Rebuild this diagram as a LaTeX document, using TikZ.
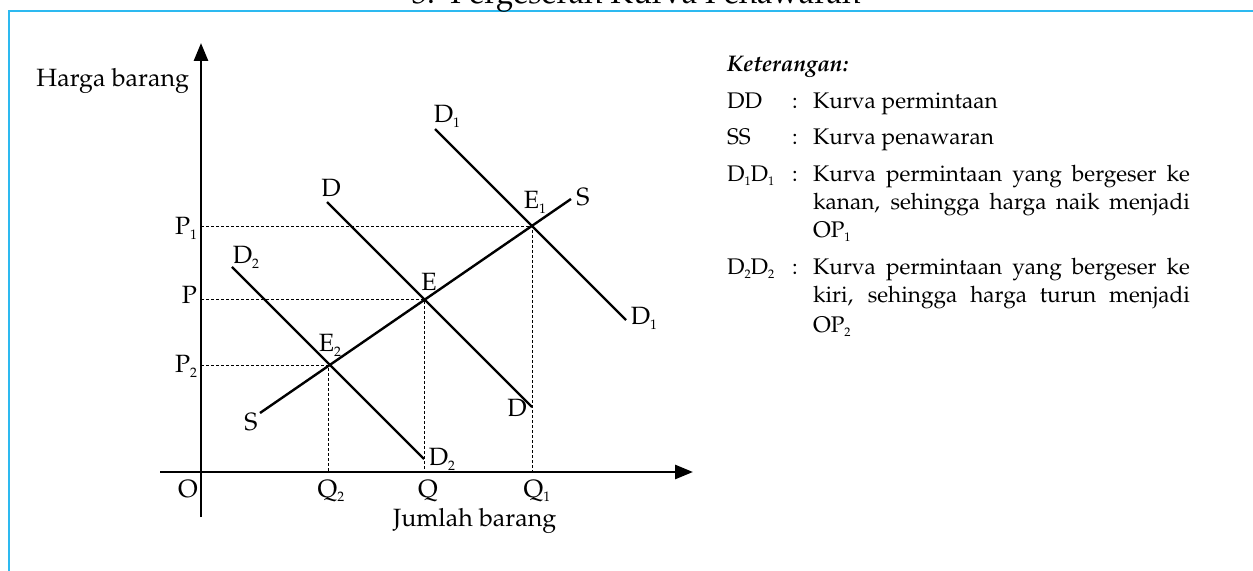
\documentclass[tikz,border=0pt]{standalone}
\usepackage[T1]{fontenc}
\usepackage{mathpazo}
\usepackage{graphicx}
\usetikzlibrary{arrows.meta}
\definecolor{frameblue}{RGB}{45,185,240}
\newcommand\sbx[1]{\raisebox{-0.35ex}{\scalebox{0.55}{#1}}}
\newlength\lw
\setlength\lw{188.5pt}
\begin{document}
\begin{tikzpicture}[x=0.5pt,y=-0.5pt,
  every node/.style={inner sep=0pt,outer sep=0pt},
  lbl/.style={font=\fontsize{12.5}{14}\selectfont, anchor=base},
  leg/.style={font=\fontsize{11.3}{13}\selectfont, anchor=base west},
  axis/.style={line width=1.4pt, -{Triangle[length=9pt,width=7pt]}},
  curve/.style={line width=1.2pt},
  guide/.style={line width=0.45pt, dash pattern=on 1.5pt off 1pt}]
\useasboundingbox (0,0) rectangle (1253,571);
\clip (0,0) rectangle (1253,571);
% frame and clipped title
\draw[frameblue, line width=1pt] (9,620) |- (1300,11);
\node[font=\fontsize{15.6}{17}\selectfont, anchor=base] (title) at (636,4) {3.\ \ Pergeseran Kurva Penawaran};
% coordinates
\coordinate (O) at (201,472);
\coordinate (ybot) at (201,517);
\coordinate (ytop) at (201,43);
\coordinate (xleft) at (160,472);
\coordinate (xright) at (693,472);
\coordinate (E) at (424,299);
\coordinate (E1) at (532,226);
\coordinate (E2) at (328,365);
\coordinate (S0) at (260,413);
\coordinate (S1) at (571,199);
\coordinate (Da) at (327,202);
\coordinate (Db) at (532,407);
\coordinate (D1a) at (435,129);
\coordinate (D1b) at (626,320);
\coordinate (D2a) at (232,267);
\coordinate (D2b) at (424,459);
\coordinate (yP) at (201,299);
\coordinate (yP1) at (201,226);
\coordinate (yP2) at (201,365);
\coordinate (xQ) at (424,472);
\coordinate (xQ1) at (532,472);
\coordinate (xQ2) at (328,472);
% guides
\draw[guide] (yP1) -- (E1) -- (xQ1);
\draw[guide] (yP) -- (E) -- (xQ);
\draw[guide] (yP2) -- (E2) -- (xQ2);
% axes
\draw[axis] (ybot) -- (ytop);
\draw[axis] (xleft) -- (xright);
% curves
\draw[curve] (S0) -- (S1);
\draw[curve] (Da) -- (Db);
\draw[curve] (D1a) -- (D1b);
\draw[curve] (D2a) -- (D2b);
% axis labels
\node[lbl, anchor=base east] (ylab) at (189,87) {Harga barang};
\node[lbl, anchor=base west] (xlab) at (393,526) {Jumlah barang};
\node[lbl] (lO) at (188,497) {O};
\node[lbl, anchor=base east] (lP1) at (197,235) {P\sbx{1}};
\node[lbl, anchor=base east] (lP) at (197,304) {P};
\node[lbl, anchor=base east] (lP2) at (197,373) {P\sbx{2}};
\node[lbl] (lQ2) at (331,497) {Q\sbx{2}};
\node[lbl] (lQ) at (428,497) {Q};
\node[lbl] (lQ1) at (537,497) {Q\sbx{1}};
% curve labels
\node[lbl] (lD1a) at (447,123) {D\sbx{1}};
\node[lbl] (lD1b) at (644,325) {D\sbx{1}};
\node[lbl] (lE1) at (535,209) {E\sbx{1}};
\node[lbl] (lS1) at (583,206) {S};
\node[lbl] (lE) at (429,291) {E};
\node[lbl] (lDa) at (331,197) {D};
\node[lbl] (lDb) at (517,417) {D};
\node[lbl] (lD2a) at (246,264) {D\sbx{2}};
\node[lbl] (lE2) at (330,352) {E\sbx{2}};
\node[lbl] (lS0) at (251,430) {S};
\node[lbl] (lD2b) at (442,466) {D\sbx{2}};
% legend
\node[leg, font=\fontsize{11.3}{13}\selectfont\bfseries\itshape] (kt) at (727,72) {Keterangan:};
\node[leg] (k1) at (727,109) {DD};
\node[leg] (c1) at (792,109) {:};
\node[leg] (t1) at (813,109) {Kurva permintaan};
\node[leg] (k2) at (727,145) {SS};
\node[leg] (c2) at (792,145) {:};
\node[leg] (t2) at (813,145) {Kurva penawaran};
\node[leg] (k3) at (727,182) {D\sbx{1}D\sbx{1}};
\node[leg] (c3) at (792,182) {:};
\node[leg] (t3a) at (813,182) {\makebox[\lw][s]{Kurva permintaan yang bergeser ke}};
\node[leg] (t3b) at (813,210) {\makebox[\lw][s]{kanan, sehingga harga naik menjadi}};
\node[leg] (t3c) at (813,238) {OP\sbx{1}};
\node[leg] (k4) at (727,275) {D\sbx{2}D\sbx{2}};
\node[leg] (c4) at (792,275) {:};
\node[leg] (t4a) at (813,275) {\makebox[\lw][s]{Kurva permintaan yang bergeser ke}};
\node[leg] (t4b) at (813,303) {\makebox[\lw][s]{kiri, sehingga harga turun menjadi}};
\node[leg] (t4c) at (813,333) {OP\sbx{2}};
\end{tikzpicture}
\end{document}
